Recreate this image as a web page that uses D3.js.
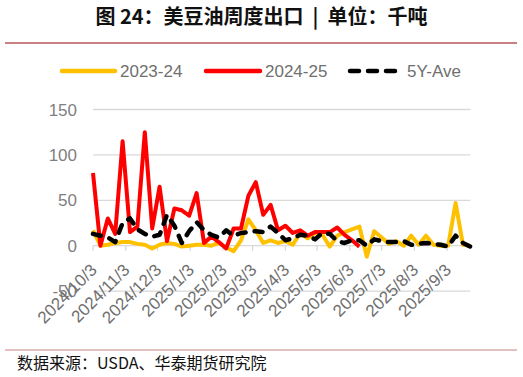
<!DOCTYPE html>
<html>
<head>
<meta charset="utf-8">
<script src="https://cdn.jsdelivr.net/npm/d3@7"></script>
<style>
  body { margin: 0; background: #fff; }
  svg { display: block; }
</style>
</head>
<body>
<div id="chart"></div>
<script>
// weekly export, thousand tonnes, first week 2024/10/3
var startWeek = '2024-10-03';
var seriesNames = ['2023-24', '2024-25', '5Y-Ave'];
var yTicks = [-50, 0, 50, 100, 150];
var monthLabels = ['2024/10/3', '2024/11/3', '2024/12/3', '2025/1/3', '2025/2/3', '2025/3/3',
  '2025/4/3', '2025/5/3', '2025/6/3', '2025/7/3', '2025/8/3', '2025/9/3'];

var y2324 = [17, 0, 1, 3, 4, 4, 2, 1, -3, 1, 3, 2, -1, 0, 1, 1, 0, 3, -2, -6, 6, 29,
  17, 3, 6, 3, 5, 1, 14, 8, 14, 12, -1, 11, 15, 18, 21, -12, 16, 9, 2, 5, 0, 11, 1, 11, 1, 0, 0, 47, 1, 0];
var y2425 = [80, 0, 30, 13, 115, 15, 21, 125, 19, 65, 5, 41, 39, 33, 58, 3, 10, 4, -3, 19, 19, 55,
  70, 34, 45, 17, 22, 14, 17, 11, 15, 15, 15, 20, 12, 6, -1];
var yAve = [13, 11, 9, 4, 25, 30, 18, 13, 10, 12, 34, 22, 3, 16, 26, 17, 12, 9, 17, 11, 14, 15,
  16, 15, 21, 14, 6, 8, 12, 11, 7, 14, 13, 5, 3, 6, 6, 0, 7, 5, 4, 4, 5, 1, 2, 3, 2, 1, -1, 11, 3, -1];

var colors = ['#FFC000', '#FF0000', '#000000'];

var W = 523, H = 377;
var latin = '"Liberation Sans", Arial, sans-serif';
var cjk = '"Noto Sans CJK SC", sans-serif';
var parseDay = d3.timeParse('%Y-%m-%d');
var parseLabel = d3.timeParse('%Y/%m/%d');
var t0 = parseDay(startWeek);
var weeks = d3.range(yAve.length).map(function (i) { return d3.timeWeek.offset(t0, i); });

var svg = d3.select('#chart').append('svg').attr('width', W).attr('height', H);

var x = d3.scaleTime().domain([weeks[0], weeks[weeks.length - 1]]).range([93, 470.4]);
var y = d3.scaleLinear().domain([-50, 150]).range([291.1, 109.5]);

// title + rules
svg.append('text')
  .attr('x', W / 2).attr('y', 24)
  .attr('text-anchor', 'middle')
  .attr('font-family', cjk)
  .attr('font-weight', 'bold')
  .attr('font-size', '20px')
  .attr('fill', '#111')
  .attr('xml:space', 'preserve')
  .style('white-space', 'pre')
  .text('图 24：美豆油周度出口  |  单位：千吨');

svg.append('line').attr('x1', 5).attr('x2', 517).attr('y1', 43).attr('y2', 43)
  .attr('stroke', '#c98080').attr('stroke-width', 2);
svg.append('line').attr('x1', 5).attr('x2', 517).attr('y1', 350).attr('y2', 350)
  .attr('stroke', '#c98080').attr('stroke-width', 1);

svg.append('text')
  .attr('x', 17).attr('y', 369)
  .attr('font-family', cjk)
  .attr('font-size', '16px')
  .attr('fill', '#111')
  .text('数据来源：USDA、华泰期货研究院');

// gridlines
svg.selectAll('.grid')
  .data(yTicks)
  .enter()
  .append('line')
  .attr('class', 'grid')
  .attr('x1', 93).attr('x2', 470.4)
  .attr('y1', function (d) { return y(d); })
  .attr('y2', function (d) { return y(d); })
  .attr('stroke', '#d9d9d9')
  .attr('stroke-width', 1.3);

// y labels
svg.selectAll('.ylab')
  .data(yTicks)
  .enter()
  .append('text')
  .attr('class', 'ylab')
  .attr('x', 77)
  .attr('y', function (d) { return y(d) + 6; })
  .attr('text-anchor', 'end')
  .attr('font-family', latin)
  .attr('font-size', '17px')
  .attr('fill', '#7f7f7f')
  .text(function (d) { return d; });

// x ticks at the zero line
var monthDates = monthLabels.map(function (s) { return parseLabel(s); });
svg.selectAll('.xtick')
  .data(monthDates)
  .enter()
  .append('line')
  .attr('class', 'xtick')
  .attr('x1', function (d) { return x(d); })
  .attr('x2', function (d) { return x(d); })
  .attr('y1', y(0)).attr('y2', y(0) + 5)
  .attr('stroke', '#d9d9d9')
  .attr('stroke-width', 1.3);

// lines
var line = d3.line()
  .x(function (d, i) { return x(weeks[i]); })
  .y(function (d) { return y(d); });

var allSeries = [y2324, y2425, yAve];
allSeries.forEach(function (s, k) {
  svg.append('path')
    .datum(s)
    .attr('d', line)
    .attr('fill', 'none')
    .attr('stroke', colors[k])
    .attr('stroke-width', k == 2 ? 4.5 : 4)
    .attr('stroke-linejoin', 'round')
    .attr('stroke-linecap', k == 2 ? 'round' : 'butt')
    .attr('stroke-dasharray', k == 2 ? '8,9' : null);
});

// x labels (rotated)
svg.selectAll('.xlab')
  .data(monthLabels)
  .enter()
  .append('text')
  .attr('class', 'xlab')
  .attr('text-anchor', 'end')
  .attr('transform', function (d) {
    return 'translate(' + (x(parseLabel(d)) + 5) + ',' + 271 + ') rotate(-45)';
  })
  .attr('font-family', latin)
  .attr('font-size', '17px')
  .attr('fill', '#6f6f6f')
  .text(function (d) { return d; });

// legend
var legendX = [62, 206, 350];
var legendLen = [53, 54, 48];
var legend = svg.selectAll('.leg')
  .data(seriesNames)
  .enter()
  .append('g')
  .attr('class', 'leg')
  .attr('transform', function (d, i) { return 'translate(' + legendX[i] + ',71)'; });

legend.append('line')
  .attr('x1', 0)
  .attr('x2', function (d, i) { return legendLen[i]; })
  .attr('stroke', function (d, i) { return colors[i]; })
  .attr('stroke-width', 4.5)
  .attr('stroke-linecap', 'round')
  .attr('stroke-dasharray', function (d, i) { return i == 2 ? '9,9' : null; });

legend.append('text')
  .attr('x', function (d, i) { return legendLen[i] + (i == 2 ? 9 : 5); })
  .attr('y', 6)
  .attr('font-family', latin)
  .attr('font-size', '17px')
  .attr('fill', '#6f6f6f')
  .text(function (d) { return d; });
</script>
</body>
</html>
